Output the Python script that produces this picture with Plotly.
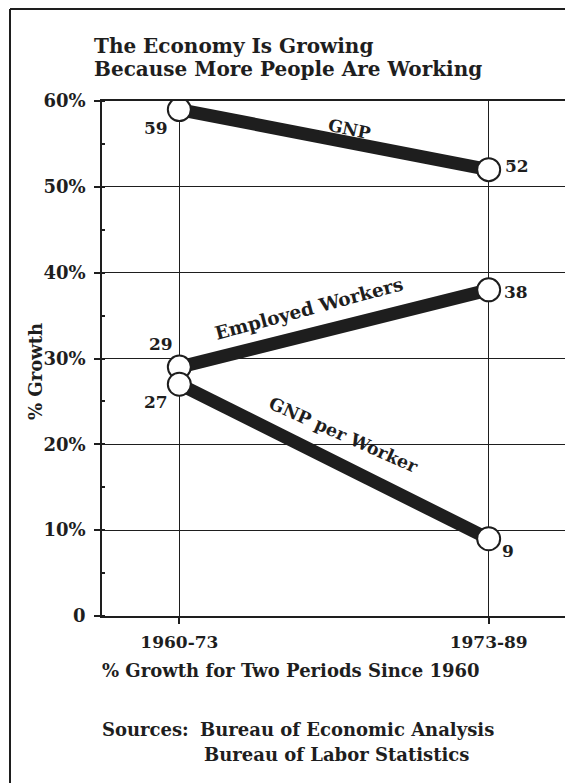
import plotly.graph_objects as go

periods = ["1960-73", "1973-89"]
gnp = [59, 52]
employed = [29, 38]
gnp_per_worker = [27, 9]
series_names = ["GNP", "Employed Workers", "GNP per Worker"]
y_ticks = [0, 10, 20, 30, 40, 50, 60]
y_ticktext = ["0", "10%", "20%", "30%", "40%", "50%", "60%"]

FONT = "DejaVu Serif"
INK = "#1e1e1e"

def f(size):
    return dict(family=FONT, size=size, color=INK, weight="bold")

# figure geometry (page body has an 8px offset)
W, H = 565, 775
ML, MR, MT, MB = 94, 7, 93, 167
PW, PH = W - ML - MR, H - MT - MB

def px(page_x):
    return (page_x - 8 - ML) / PW

def py(page_y):
    return (H - MB - (page_y - 8)) / PH

fig = go.Figure()
all_series = [gnp, employed, gnp_per_worker]
for name, vals in zip(series_names, all_series):
    fig.add_trace(go.Scatter(
        x=periods, y=vals, mode="lines", name=name,
        line=dict(color=INK, width=13), hoverinfo="skip"))
for name, vals in zip(series_names, all_series):
    fig.add_trace(go.Scatter(
        x=periods, y=vals, mode="markers", name=name,
        marker=dict(size=23, color="white", line=dict(color=INK, width=2)),
        hoverinfo="skip"))

annos = []
offsets = {
    ("GNP", 0): (-23, -18), ("GNP", 1): (28, 4),
    ("Employed Workers", 0): (-18, 23), ("Employed Workers", 1): (27, -2),
    ("GNP per Worker", 0): (-23, -18), ("GNP per Worker", 1): (19, -12),
}
for name, vals in zip(series_names, all_series):
    for i, v in enumerate(vals):
        dx, dy = offsets[(name, i)]
        annos.append(dict(x=periods[i], y=v, text=str(v), showarrow=False,
                          xshift=dx, yshift=dy, font=f(17)))

# (name, values, angle, fraction along line, vertical shift px, size)
line_label_cfg = [
    ("GNP", gnp, 12, 0.55, 14, 17),
    ("Employed Workers", employed, -15, 0.42, 26, 18.5),
    ("GNP per Worker", gnp_per_worker, 24, 0.53, 31, 17.5),
]
for name, vals, ang, t, shift, sz in line_label_cfg:
    yv = vals[0] + (vals[1] - vals[0]) * t
    annos.append(dict(x=t, y=yv, xref="x", yref="y", text=name, showarrow=False,
                      textangle=ang, yshift=shift, font=f(sz)))

annos += [
    dict(xref="paper", yref="paper", x=px(92), y=py(46), xanchor="left", yanchor="middle",
         text="The Economy Is Growing", showarrow=False, font=f(20)),
    dict(xref="paper", yref="paper", x=px(92), y=py(69), xanchor="left", yanchor="middle",
         text="Because More People Are Working", showarrow=False, font=f(20)),
    dict(xref="paper", yref="paper", x=px(100), y=py(670), xanchor="left", yanchor="middle",
         text="% Growth for Two Periods Since 1960", showarrow=False, font=f(18)),
    dict(xref="paper", yref="paper", x=px(100), y=py(729), xanchor="left", yanchor="middle",
         text="Sources:", showarrow=False, font=f(18)),
    dict(xref="paper", yref="paper", x=px(198), y=py(729), xanchor="left", yanchor="middle",
         text="Bureau of Economic Analysis", showarrow=False, font=f(18)),
    dict(xref="paper", yref="paper", x=px(202), y=py(754), xanchor="left", yanchor="middle",
         text="Bureau of Labor Statistics", showarrow=False, font=f(18)),
    dict(xref="paper", yref="paper", x=px(35), y=py(372), xanchor="center", yanchor="middle",
         text="% Growth", textangle=-90, showarrow=False, font=f(18)),
]
fig.update_layout(annotations=annos)

# outer frame
fig.add_shape(type="line", xref="paper", yref="paper",
              x0=px(10), x1=px(10), y0=py(800), y1=py(9),
              line=dict(color=INK, width=2))
fig.add_shape(type="line", xref="paper", yref="paper",
              x0=px(10), x1=px(600), y0=py(9), y1=py(9),
              line=dict(color=INK, width=2))

fig.update_xaxes(range=[-0.25, 1.25], showgrid=True, gridcolor=INK, gridwidth=1.4,
                 showline=True, linecolor=INK, linewidth=1.6, mirror=True,
                 ticks="outside", ticklen=6, tickcolor=INK, tickwidth=1.5,
                 ticklabelstandoff=4,
                 tickfont=f(17), zeroline=False, automargin=False,
                 fixedrange=True)
fig.update_yaxes(range=[0, 60], tickvals=y_ticks, ticktext=y_ticktext,
                 showgrid=True, gridcolor=INK, gridwidth=1.4,
                 showline=True, linecolor=INK, linewidth=1.6, mirror=True,
                 ticks="outside", ticklen=6, tickcolor=INK, tickwidth=1.5,
                 ticklabelstandoff=5,
                 minor=dict(dtick=5, ticks="inside", ticklen=3, tickcolor=INK, showgrid=False),
                 tickfont=f(18), zeroline=False, automargin=False,
                 fixedrange=True)

fig.update_layout(width=W, height=H, showlegend=False,
                  margin=dict(l=ML, r=MR, t=MT, b=MB),
                  paper_bgcolor="white", plot_bgcolor="white")

fig.write_html("out.html")
